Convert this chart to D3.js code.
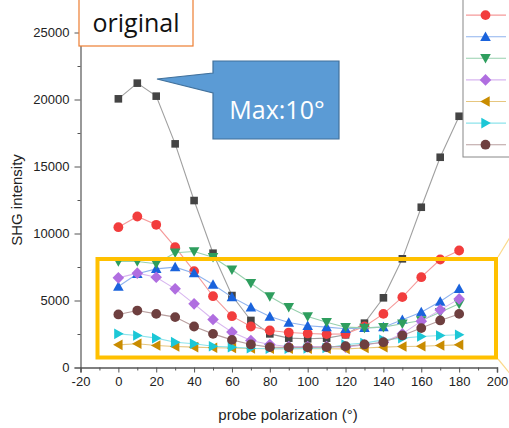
<!DOCTYPE html>
<html><head><meta charset="utf-8">
<script src="https://cdn.jsdelivr.net/npm/d3@7"></script>
<style>body{margin:0;background:#fff}svg{display:block}</style>
</head><body>
<svg id="c" width="509" height="428"></svg>
<script>
const angles = [0,10,20,30,40,50,60,70,80,90,100,110,120,130,140,150,160,170,180];
const sBlack  = [20050,21220,20250,16690,12460,8530,5370,3510,2510,2190,2140,2190,2440,3310,5200,8110,11960,15690,18750];
const sRed    = [10470,11270,10650,8980,7190,5320,3830,3060,2760,2610,2540,2490,2510,3060,4000,5250,6740,8060,8730];
const sBlue   = [6040,6990,7360,7490,7040,6190,5250,4500,3810,3360,3110,3010,2890,2960,3010,3560,4130,4930,5870];
const sGreen  = [7910,7910,7740,8560,8660,8230,7290,6290,5300,4500,3810,3380,3010,2960,3010,3260,3510,4130,4750];
const sPurple = [6690,7040,6740,5870,4750,3580,2640,2010,1720,1570,1570,1570,1520,1690,1890,2510,3460,4300,5120];
const sGold   = [1690,1770,1640,1570,1520,1470,1450,1420,1400,1400,1400,1400,1390,1450,1520,1570,1590,1640,1690];
const sCyan   = [2510,2390,2190,1890,1770,1590,1520,1440,1400,1400,1420,1450,1720,1820,2060,2190,2310,2390,2440];
const sBrown  = [3960,4250,4000,3760,3060,2510,2060,1720,1520,1500,1500,1520,1590,1720,1890,2390,2940,3510,4000];
const xTicks = [-20,0,20,40,60,80,100,120,140,160,180,200];
const yTicks = [0,5000,10000,15000,20000,25000];

const series = [
  {v:sBlack, c:"#444444", l:"#a0a0a0", m:"square"},
  {v:sRed,   c:"#f23d3d", l:"#f59a9a", m:"circle"},
  {v:sBlue,  c:"#1a63dc", l:"#8fb3ee", m:"up"},
  {v:sGreen, c:"#2e9e5e", l:"#97d0ae", m:"down"},
  {v:sPurple,c:"#b06ee0", l:"#d8b6f0", m:"diamond"},
  {v:sGold,  c:"#c98c00", l:"#e6c67f", m:"left"},
  {v:sCyan,  c:"#1cc7d6", l:"#8de3eb", m:"right"},
  {v:sBrown, c:"#6e3f3f", l:"#b89f9f", m:"circle"}
];

const svg = d3.select("#c");
const x = d3.scaleLinear().domain([-20,200]).range([80.5,497]);
const y = d3.scaleLinear().domain([0,27500]).range([367.5,-1]);

const font = "Liberation Sans, Arial, sans-serif";
const xAxis = d3.axisBottom(x).tickValues(xTicks).tickSize(5).tickPadding(4).tickFormat(d => String(d));
const gx = svg.append("g").attr("transform","translate(0,367.5)").call(xAxis);
gx.selectAll("text").attr("font-family",font).attr("font-size",13).attr("fill","#222");
gx.select(".domain").attr("stroke","#555").attr("stroke-width",1.5);
gx.selectAll(".tick line").attr("stroke","#555");
const xMinor = d3.axisBottom(x).tickValues(d3.range(-10,200,20)).tickSize(3).tickFormat("");
const gxm = svg.append("g").attr("transform","translate(0,367.5)").call(xMinor);
gxm.select(".domain").remove(); gxm.selectAll("line").attr("stroke","#555");

const yAxis = d3.axisLeft(y).tickValues(yTicks).tickSize(6).tickPadding(5).tickFormat(d => String(d));
const gy = svg.append("g").attr("transform","translate(80.5,0)").call(yAxis);
gy.selectAll("text").attr("font-family",font).attr("font-size",13).attr("fill","#222");
gy.select(".domain").attr("stroke","#555").attr("stroke-width",1.2);
gy.selectAll(".tick line").attr("stroke","#555");
const yMinor = d3.axisLeft(y).tickValues(d3.range(2500,27500,5000)).tickSize(3).tickFormat("");
const gym = svg.append("g").attr("transform","translate(80.5,0)").call(yMinor);
gym.select(".domain").remove(); gym.selectAll("line").attr("stroke","#555");

svg.append("text").attr("x",288).attr("y",420).attr("text-anchor","middle")
  .attr("font-family",font).attr("font-size",15).attr("fill","#222").text("probe polarization (°)");
svg.append("text").attr("transform","translate(22,200) rotate(-90)").attr("text-anchor","middle")
  .attr("font-family",font).attr("font-size",15).attr("fill","#222").text("SHG intensity");

function markerPath(type){
  switch(type){
    case "square": return "M-3.8,-3.8H3.8V3.8H-3.8Z";
    case "up": return "M0,-5.3L5.3,4.2H-5.3Z";
    case "down": return "M0,5.3L5.3,-4.2H-5.3Z";
    case "left": return "M-5.3,0L4.2,-5.3V5.3Z";
    case "right": return "M5.3,0L-4.2,-5.3V5.3Z";
    case "diamond": return "M0,-5.8L5.8,0L0,5.8L-5.8,0Z";
  }
  return null;
}
function drawMarker(g, type, cx, cy, col){
  if(type==="circle"){
    g.append("circle").attr("cx",cx).attr("cy",cy).attr("r",4.9).attr("fill",col);
  } else {
    g.append("path").attr("d",markerPath(type)).attr("transform",`translate(${cx},${cy})`).attr("fill",col);
  }
}

const line = d3.line().x((d,i)=>x(angles[i])).y(d=>y(d));
series.forEach(s=>{
  const g = svg.append("g");
  g.append("path").datum(s.v).attr("d",line).attr("fill","none").attr("stroke",s.l).attr("stroke-width",1.1);
  s.v.forEach((v,i)=>drawMarker(g, s.m, x(angles[i]), y(v), s.c));
});

// highlight box
svg.append("rect").attr("x",97.5).attr("y",259).attr("width",398.5).attr("height",98.5)
  .attr("fill","none").attr("stroke","#ffc000").attr("stroke-width",4);
svg.append("line").attr("x1",498).attr("y1",257).attr("x2",512).attr("y2",234).attr("stroke","#fbd98a").attr("stroke-width",1.2);
svg.append("line").attr("x1",498).attr("y1",359).attr("x2",512).attr("y2",376).attr("stroke","#fbd98a").attr("stroke-width",1.2);

// legend
const lg = svg.append("g");
lg.append("rect").attr("x",463).attr("y",-20).attr("width",60).attr("height",177)
  .attr("fill","#fff").attr("stroke","#888").attr("stroke-width",1);
series.forEach((s,i)=>{
  const ly = -6.5 + i*21.6;
  lg.append("line").attr("x1",466).attr("x2",506).attr("y1",ly).attr("y2",ly).attr("stroke",s.l).attr("stroke-width",1.1);
  drawMarker(lg, s.m, 485.5, ly, s.c);
});

// "original" box
svg.append("rect").attr("x",79).attr("y",-3).attr("width",114).attr("height",49)
  .attr("fill","#fff").attr("stroke","#ed7d31").attr("stroke-width",1.2);
svg.append("text").attr("x",136).attr("y",32).attr("text-anchor","middle")
  .attr("font-family","Open Sans, sans-serif").attr("font-size",25).attr("fill","#111").text("original");

// callout
svg.append("path").attr("d","M213,61H339V139H213V93L157,79L213,73Z")
  .attr("fill","#5b9bd5").attr("stroke","#41719c").attr("stroke-width",1.2);
svg.append("text").attr("x",277).attr("y",110).attr("dy","0.35em").attr("text-anchor","middle")
  .attr("font-family","Open Sans, sans-serif").attr("font-size",25).attr("fill","#fff").text("Max:10°");
</script>
</body></html>
